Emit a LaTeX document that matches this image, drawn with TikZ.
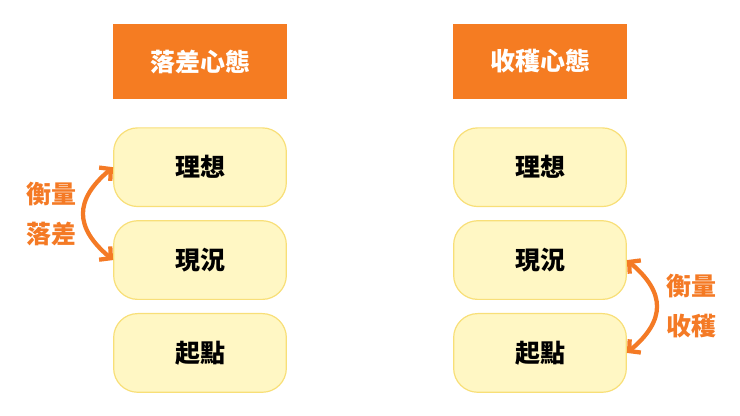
\documentclass[tikz,border=0pt]{standalone}
\usepackage{fontspec}
\setmainfont{Noto Sans CJK TC}
\usetikzlibrary{positioning,arrows.meta}
\definecolor{headorange}{HTML}{F57C22}
\definecolor{arroworange}{HTML}{F47A25}
\definecolor{boxfill}{HTML}{FFF7C4}
\definecolor{boxline}{HTML}{F8DF78}

\begin{document}
\begin{tikzpicture}[
    x=0.75pt, y=-0.75pt,
    every node/.style={
        font=\fontsize{18.75pt}{22pt}\selectfont\bfseries,
        inner sep=0pt,
    },
    header/.style={
        fill=headorange,
        text=white,
        minimum width=130.5pt,
        minimum height=56.25pt,
    },
    stage/.style={
        draw=boxline,
        line width=0.9pt,
        fill=boxfill,
        rounded corners=18pt,
        minimum width=129.5pt,
        minimum height=59pt,
    },
    measure/.style={
        draw=arroworange,
        line width=3.2pt,
        line cap=round,
        {Straight Barb[length=6pt,width=13pt]}-{Straight Barb[length=6pt,width=13pt]},
        looseness=1.4,
    },
    note/.style={
        text=arroworange,
        align=center,
        font=\fontsize{18.75pt}{30pt}\selectfont\bfseries,
    },
    node distance=21pt and 0pt,
  ]
  \useasboundingbox (0,0) rectangle (740,416);
  % left column
  \node [header] (gapHead) at (200,61.5) {落差心態};
  \node [stage, below=of gapHead] (gapIdeal) {理想};
  \node [stage, below=9.75pt of gapIdeal] (gapNow) {現況};
  \node [stage, below=9.75pt of gapNow] (gapStart) {起點};
  % right column
  \node [header] (gainHead) at (540,61.5) {收穫心態};
  \node [stage, below=of gainHead] (gainIdeal) {理想};
  \node [stage, below=9.75pt of gainIdeal] (gainNow) {現況};
  \node [stage, below=9.75pt of gainNow] (gainStart) {起點};
  % arrows
  \draw [measure] (gapIdeal.west) to[bend right=50]
    node [note, midway, left=4pt] (gapNote) {衡量\\落差} (gapNow.west);
  \draw [measure] (gainNow.east) to[bend left=50]
    node [note, midway, right=6pt] (gainNote) {衡量\\收穫} (gainStart.east);
\end{tikzpicture}
\end{document}
